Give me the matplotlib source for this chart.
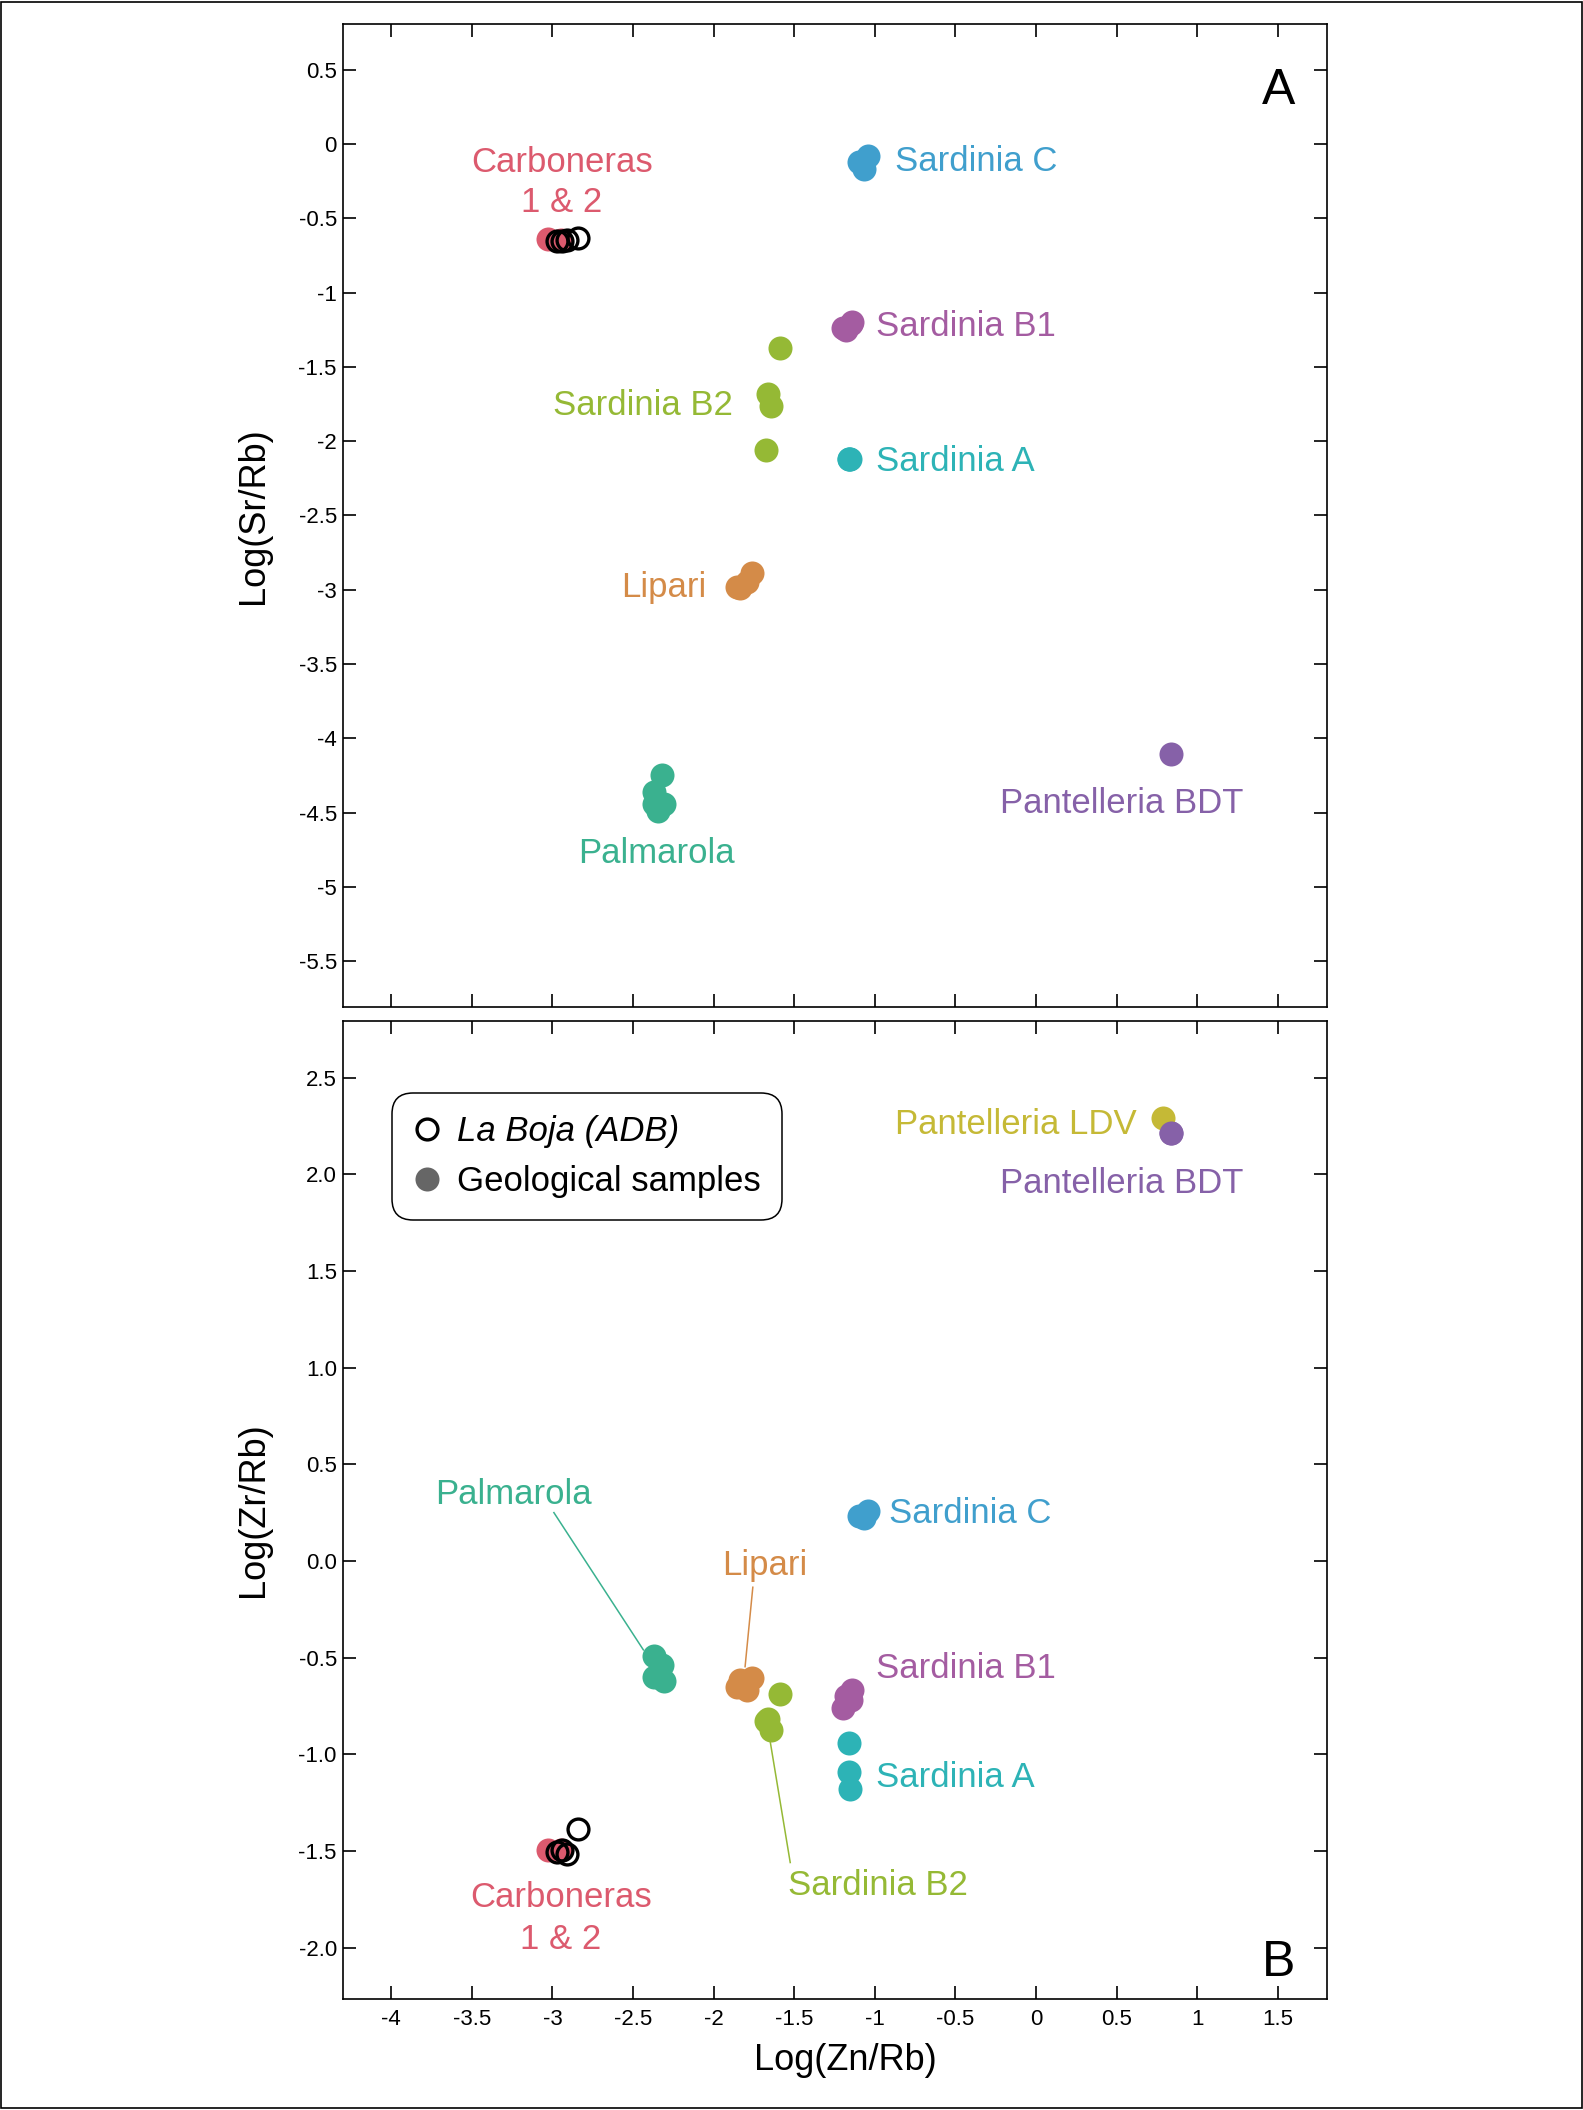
import matplotlib
matplotlib.use('Agg')
import matplotlib.pyplot as plt
from matplotlib.lines import Line2D
from matplotlib.patches import Rectangle

plt.rcParams['font.family'] = ['Liberation Sans', 'DejaVu Sans']
plt.rcParams['axes.unicode_minus'] = False

# ---- data: Log(Zn/Rb), Log(Sr/Rb), Log(Zr/Rb) ----
boja_zn = [-2.97, -2.94, -2.91, -2.84]
boja_sr = [-0.655, -0.65, -0.645, -0.635]
boja_zr = [-1.505, -1.497, -1.514, -1.386]

carb_zn = [-3.03, -2.95]
carb_sr = [-0.64, -0.645]
carb_zr = [-1.493, -1.497]

sardc_zn = [-1.10, -1.07, -1.04]
sardc_sr = [-0.12, -0.17, -0.08]
sardc_zr = [0.23, 0.22, 0.26]

sardb1_zn = [-1.20, -1.18, -1.15, -1.14]
sardb1_sr = [-1.24, -1.25, -1.21, -1.20]
sardb1_zr = [-0.76, -0.70, -0.72, -0.67]

sardb2_zn = [-1.59, -1.66, -1.645, -1.675]
sardb2_sr = [-1.375, -1.684, -1.763, -2.059]
sardb2_zr = [-0.69, -0.82, -0.875, -0.83]

sarda_zn = [-1.16, -1.16, -1.155]
sarda_sr = [-2.12, -2.12, -2.12]
sarda_zr = [-0.94, -1.09, -1.18]

lipari_zn = [-1.836, -1.764, -1.795, -1.857]
lipari_sr = [-2.99, -2.889, -2.945, -2.98]
lipari_zr = [-0.616, -0.607, -0.668, -0.651]

palma_zn = [-2.37, -2.32, -2.37, -2.31, -2.345]
palma_sr = [-4.44, -4.25, -4.36, -4.44, -4.49]
palma_zr = [-0.49, -0.54, -0.60, -0.62, -0.60]

pbdt_zn = [0.84]
pbdt_sr = [-4.105]
pbdt_zr = [2.216]

pldv_zn = [0.79]
pldv_zr = [2.291]

x_ticks = [-4, -3.5, -3, -2.5, -2, -1.5, -1, -0.5, 0, 0.5, 1, 1.5]
x_ticklabels = ['-4', '-3.5', '-3', '-2.5', '-2', '-1.5', '-1', '-0.5', '0', '0.5', '1', '1.5']
ya_ticks = [0.5, 0, -0.5, -1, -1.5, -2, -2.5, -3, -3.5, -4, -4.5, -5, -5.5]
ya_ticklabels = ['0.5', '0', '-0.5', '-1', '-1.5', '-2', '-2.5', '-3', '-3.5', '-4', '-4.5', '-5', '-5.5']
yb_ticks = [2.5, 2.0, 1.5, 1.0, 0.5, 0.0, -0.5, -1.0, -1.5, -2.0]
yb_ticklabels = ['2.5', '2.0', '1.5', '1.0', '0.5', '0.0', '-0.5', '-1.0', '-1.5', '-2.0']

# colours
c_carb = '#DC5A6E'
c_sardc = '#409FCD'
c_sardb1 = '#A45CA1'
c_sardb2 = '#95B935'
c_sarda = '#2DB3B6'
c_lipari = '#D48B48'
c_palma = '#3AB18F'
c_pbdt = '#8661A8'
c_pldv = '#C5B936'

# filled geological groups (zn, sr, zr, colour)
groups = [
    (carb_zn, carb_sr, carb_zr, c_carb),
    (sardc_zn, sardc_sr, sardc_zr, c_sardc),
    (sardb1_zn, sardb1_sr, sardb1_zr, c_sardb1),
    (sardb2_zn, sardb2_sr, sardb2_zr, c_sardb2),
    (sarda_zn, sarda_sr, sarda_zr, c_sarda),
    (lipari_zn, lipari_sr, lipari_zr, c_lipari),
    (palma_zn, palma_sr, palma_zr, c_palma),
    (pbdt_zn, pbdt_sr, pbdt_zr, c_pbdt),
]

MS = 17.3
MS_OPEN = 15.0
MEW = 2.4
LAB = 25

fig = plt.figure(figsize=(15.83, 21.10), dpi=100)
ax_a = fig.add_axes([0.2167, 0.5229, 0.6214, 0.4657])
ax_b = fig.add_axes([0.2167, 0.0526, 0.6214, 0.4637])

# outer frame round the whole figure
fig.patches.append(Rectangle((0.0008, 0.0008), 0.9984, 0.9984, transform=fig.transFigure,
                             fill=False, edgecolor='black', linewidth=1.2))

for zn, sr, zr, col in groups:
    ax_a.plot(zn, sr, ls='none', marker='o', ms=MS, color=col, mec='none')
    ax_b.plot(zn, zr, ls='none', marker='o', ms=MS, color=col, mec='none')
ax_b.plot(pldv_zn, pldv_zr, ls='none', marker='o', ms=MS, color=c_pldv, mec='none')
ax_b.plot(pbdt_zn, pbdt_zr, ls='none', marker='o', ms=MS, color=c_pbdt, mec='none')

# La Boja archaeological samples on top
ax_a.plot(boja_zn, boja_sr, ls='none', marker='o', ms=MS_OPEN, mfc='none', mec='black', mew=MEW)
ax_b.plot(boja_zn, boja_zr, ls='none', marker='o', ms=MS_OPEN, mfc='none', mec='black', mew=MEW)

for ax in (ax_a, ax_b):
    ax.set_xlim(-4.299, 1.803)
    ax.set_xticks(x_ticks)
    ax.tick_params(direction='in', length=9.4, width=1.2, top=True, right=True,
                   labelsize=16, pad=4.5)
    ax.tick_params(axis='x', pad=7)
    for sp in ax.spines.values():
        sp.set_linewidth(1.2)

ax_a.set_ylim(-5.806, 0.8075)
ax_a.set_yticks(ya_ticks)
ax_a.set_yticklabels(ya_ticklabels)
ax_a.set_xticklabels([])

ax_b.set_ylim(-2.266, 2.795)
ax_b.set_yticks(yb_ticks)
ax_b.set_yticklabels(yb_ticklabels)
ax_b.set_xticklabels(x_ticklabels)

ax_a.set_ylabel('Log(Sr/Rb)', fontsize=26, va='center')
ax_a.yaxis.set_label_coords(-0.0915, 0.5)
ax_b.set_ylabel('Log(Zr/Rb)', fontsize=26, va='center')
ax_b.yaxis.set_label_coords(-0.0915, 0.5)
ax_b.set_xlabel('Log(Zn/Rb)', fontsize=26, va='center')
ax_b.xaxis.set_label_coords(0.511, -0.063)

# group labels
def lab(ax, x, y, s, col, ha='left', size=LAB):
    ax.text(x, y, s, color=col, fontsize=size, ha=ha, va='baseline')

# panel A
lab(ax_a, -2.942, -0.186, 'Carboneras', c_carb, 'center')
lab(ax_a, -2.942, -0.460, '1 & 2', c_carb, 'center')
lab(ax_a, -0.875, -0.182, 'Sardinia C', c_sardc)
lab(ax_a, -0.994, -1.292, 'Sardinia B1', c_sardb1)
lab(ax_a, -0.994, -2.200, 'Sardinia A', c_sarda)
lab(ax_a, -1.880, -1.825, 'Sardinia B2', c_sardb2, 'right')
lab(ax_a, -2.043, -3.046, 'Lipari', c_lipari, 'right')
lab(ax_a, -2.355, -4.841, 'Palmarola', c_palma, 'center')
lab(ax_a, 0.532, -4.500, 'Pantelleria BDT', c_pbdt, 'center')
lab(ax_a, 1.506, 0.272, 'A', 'black', 'center', size=36)

# panel B
lab(ax_b, 0.625, 2.210, 'Pantelleria LDV', c_pldv, 'right')
lab(ax_b, 0.532, 1.905, 'Pantelleria BDT', c_pbdt, 'center')
lab(ax_b, -0.910, 0.195, 'Sardinia C', c_sardc)
lab(ax_b, -0.993, -0.607, 'Sardinia B1', c_sardb1)
lab(ax_b, -0.993, -1.168, 'Sardinia A', c_sarda)
lab(ax_b, -1.536, -1.727, 'Sardinia B2', c_sardb2)
lab(ax_b, -1.684, -0.073, 'Lipari', c_lipari, 'center')
lab(ax_b, -3.240, 0.293, 'Palmarola', c_palma, 'center')
lab(ax_b, -2.948, -1.792, 'Carboneras', c_carb, 'center')
lab(ax_b, -2.948, -2.009, '1 & 2', c_carb, 'center')
lab(ax_b, 1.503, -2.147, 'B', 'black', 'center', size=36)

# leader lines, panel B
ax_b.plot([-2.991, -2.436], [0.25, -0.46], color=c_palma, lw=1.1)
ax_b.plot([-1.757, -1.805], [-0.136, -0.547], color=c_lipari, lw=1.1)
ax_b.plot([-1.650, -1.525], [-0.93, -1.56], color=c_sardb2, lw=1.1)

# legend
handles = [
    Line2D([], [], ls='none', marker='o', ms=MS_OPEN, mfc='none', mec='black', mew=MEW),
    Line2D([], [], ls='none', marker='o', ms=MS, color='#666666', mec='none'),
]
leg = ax_b.legend(handles, ['La Boja (ADB)', 'Geological samples'], loc='upper left',
                  bbox_to_anchor=(0.0495, 0.9258), borderaxespad=0, fontsize=LAB,
                  frameon=True, fancybox=True, framealpha=1, edgecolor='black',
                  handlelength=0.8, handletextpad=0.45, borderpad=0.62, labelspacing=0.5)
leg.get_frame().set_linewidth(1.1)
leg.get_frame().set_boxstyle('round,pad=0,rounding_size=0.6')
leg.get_texts()[0].set_style('italic')

fig.savefig('out.png', dpi=100)
